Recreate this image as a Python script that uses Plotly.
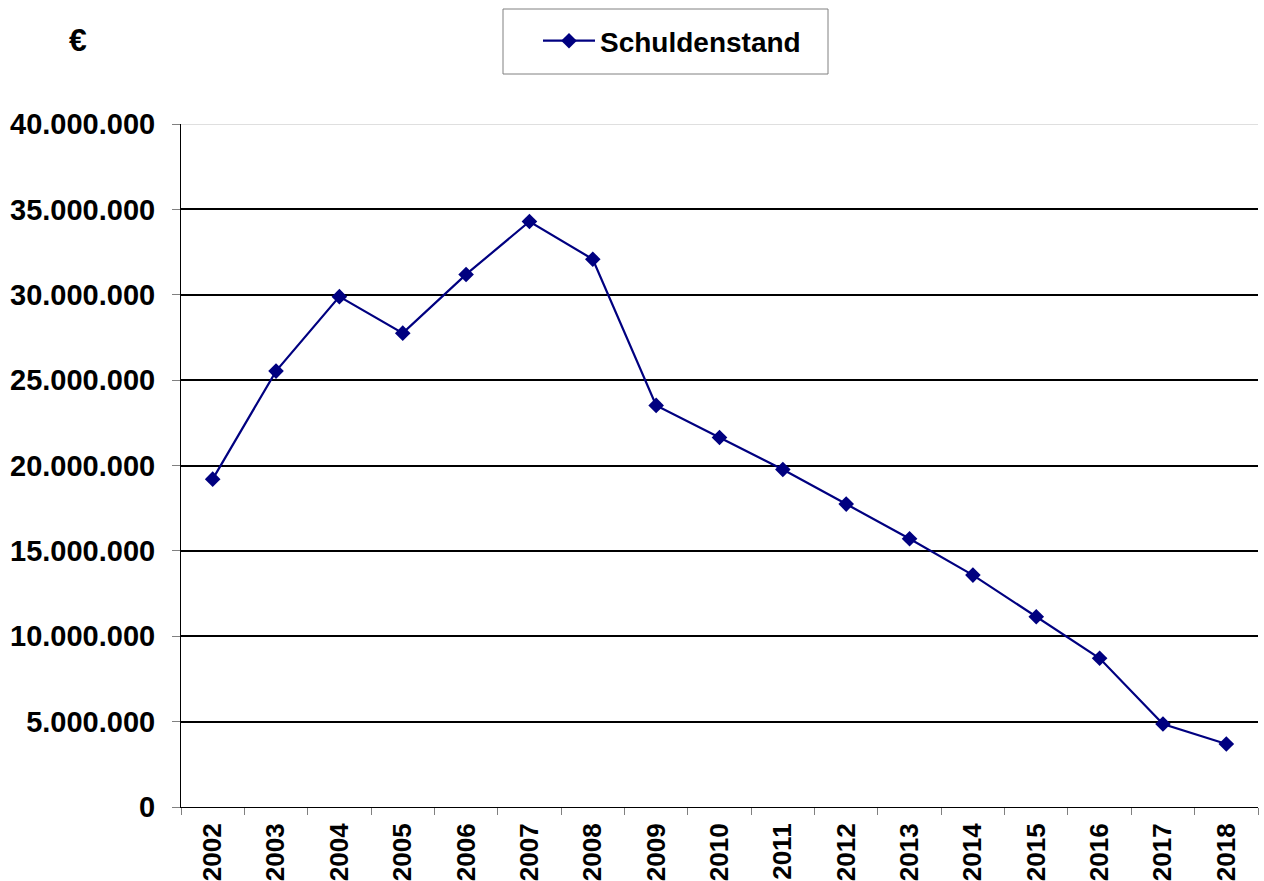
import plotly.graph_objects as go

# Debt level per year (EUR)
years = ["2002", "2003", "2004", "2005", "2006", "2007", "2008", "2009", "2010",
         "2011", "2012", "2013", "2014", "2015", "2016", "2017", "2018"]
schuldenstand = [19200000, 25530000, 29890000, 27750000, 31190000, 34290000,
                 32080000, 23520000, 21640000, 19770000, 17740000, 15710000,
                 13580000, 11140000, 8710000, 4860000, 3690000]
y_ticks = [0, 5000000, 10000000, 15000000, 20000000, 25000000, 30000000,
           35000000, 40000000]

FONT = "Liberation Sans, Arial, sans-serif"
NAVY = "#000080"

fig = go.Figure()
fig.add_trace(go.Scatter(
    x=years, y=schuldenstand, name="Schuldenstand", mode="lines+markers",
    line=dict(color=NAVY, width=2.2),
    marker=dict(symbol="diamond", size=12, color=NAVY),
))

fig.update_layout(
    width=1264, height=881,
    margin=dict(l=181, r=6, t=124, b=74, autoexpand=False),
    paper_bgcolor="white", plot_bgcolor="white",
    separators=",.",
    font=dict(family=FONT, color="black"),
    showlegend=True,
    legend=dict(
        x=(538 - 181) / 1077, y=(807 - 41) / 683, xanchor="left", yanchor="middle",
        font=dict(family=FONT, size=28, color="black", weight="bold"),
        itemwidth=52, bgcolor="rgba(0,0,0,0)", borderwidth=0,
    ),
    xaxis=dict(
        type="category", tickson="boundaries", range=[-0.5, 16.5],
        showline=True, linecolor="black", linewidth=1,
        ticks="outside", ticklen=7, tickcolor="#808080", tickwidth=1,
        tickangle=-90, showgrid=False, ticklabelstandoff=5,
        tickfont=dict(family=FONT, size=26, color="black", weight="bold"),
    ),
    yaxis=dict(
        range=[0, 40000000], tickvals=y_ticks, tickformat=",d",
        showline=True, linecolor="black", linewidth=1,
        ticks="outside", ticklen=8, tickcolor="#808080", tickwidth=1,
        showgrid=True, gridcolor="black", gridwidth=2,
        zeroline=False, ticklabelstandoff=11,
        tickfont=dict(family=FONT, size=29, color="black", weight="bold"),
    ),
    shapes=[
        # softer top border of the plot area
        dict(type="line", xref="paper", yref="y", x0=0, x1=1,
             y0=40000000, y1=40000000, line=dict(color="white", width=3),
             layer="above"),
        dict(type="line", xref="paper", yref="y", x0=0, x1=1,
             y0=40000000, y1=40000000, line=dict(color="#c0c0c0", width=1),
             layer="above"),
        # legend frame
        dict(type="rect", xref="paper", yref="paper",
             x0=(503 - 181) / 1077, x1=(828 - 181) / 1077,
             y0=(807 - 74) / 683, y1=(807 - 9) / 683,
             line=dict(color="#808080", width=1), fillcolor="rgba(0,0,0,0)"),
    ],
    annotations=[
        dict(text="€", xref="paper", yref="paper",
             x=(78 - 181) / 1077, y=(807 - 40) / 683,
             xanchor="center", yanchor="middle", showarrow=False,
             font=dict(family=FONT, size=32, color="black", weight="bold")),
    ],
)

fig.write_html("out.html")
